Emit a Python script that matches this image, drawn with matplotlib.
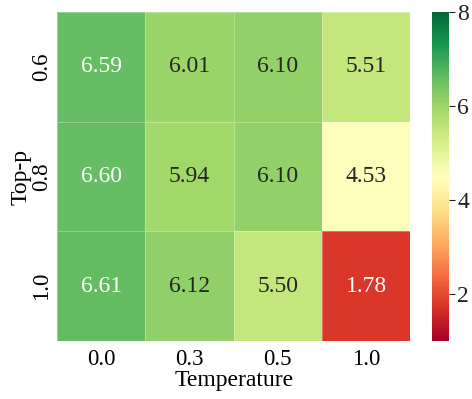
import matplotlib
matplotlib.use("Agg")
import matplotlib.pyplot as plt
import seaborn as sns
import numpy as np

temperatures = ["0.0", "0.3", "0.5", "1.0"]
top_p = ["0.6", "0.8", "1.0"]
scores = np.array([
    [6.59, 6.01, 6.10, 5.51],
    [6.60, 5.94, 6.10, 4.53],
    [6.61, 6.12, 5.50, 1.78],
])

plt.rcParams['font.family'] = ['Liberation Serif', 'DejaVu Serif']

fig = plt.figure(figsize=(4.72, 3.99), dpi=100)
ax = fig.add_axes([0.121, 0.145, 0.748, 0.825])
cax = fig.add_axes([0.915, 0.145, 0.036, 0.825])

sns.heatmap(scores, ax=ax, cbar_ax=cax, cmap="RdYlGn", vmin=1, vmax=8,
            annot=True, fmt=".2f", annot_kws={"size": 17},
            linewidths=0.5, linecolor=(1, 1, 1, 0.3),
            xticklabels=temperatures, yticklabels=top_p)

ax.set_xlabel("Temperature", fontsize=17, labelpad=0)
ax.set_ylabel("Top-p", fontsize=17, labelpad=0)
ax.tick_params(axis='both', labelsize=16.5, length=0)
ax.tick_params(axis='x', pad=6)
ax.set_yticklabels(top_p, rotation=90, va='center')

cax.tick_params(labelsize=17, length=4, width=0.8, pad=2, colors='#222222')
cax.set_yticks([2, 4, 6, 8])

fig.savefig("out.png", dpi=100)
